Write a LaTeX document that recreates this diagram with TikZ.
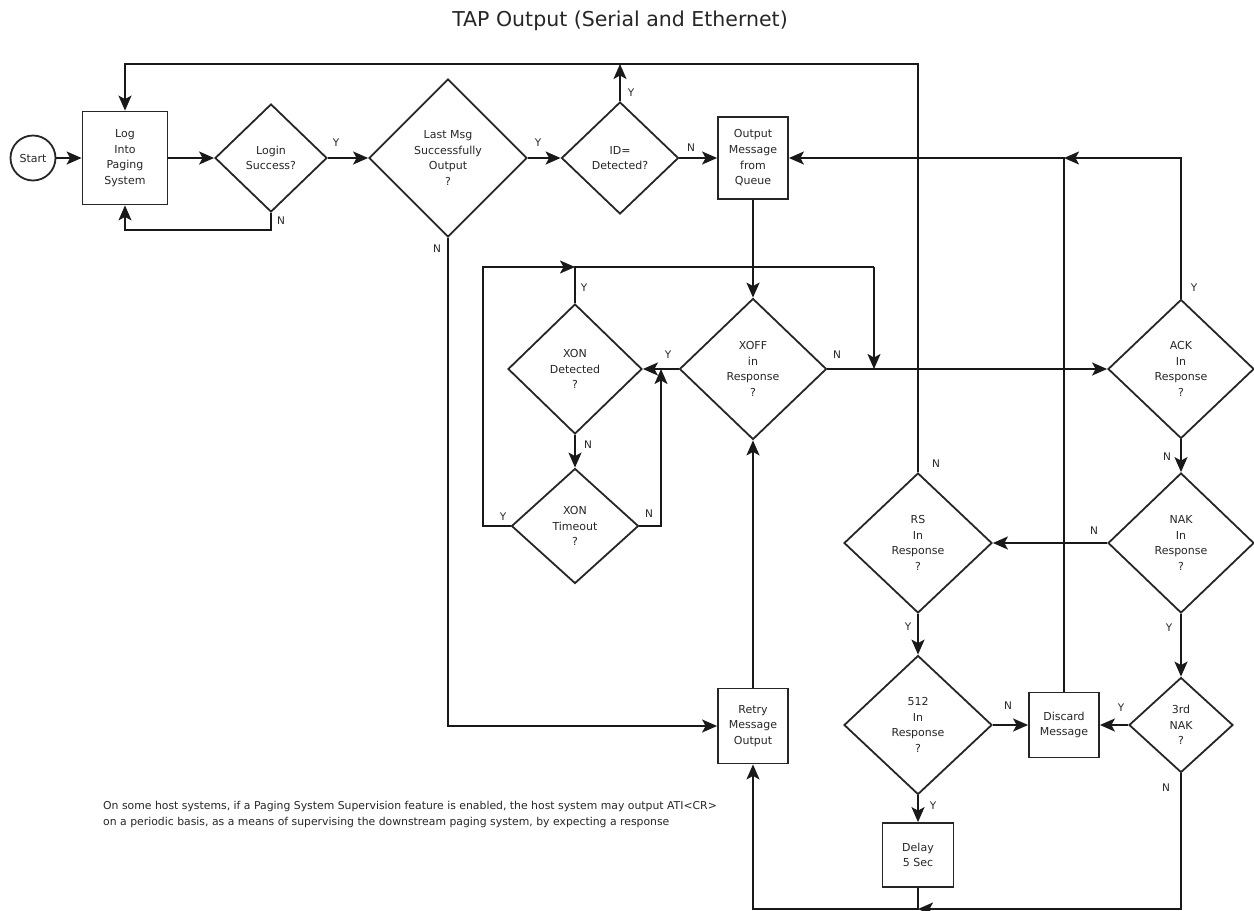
\documentclass[tikz,border=0pt]{standalone}
\usepackage{fontspec}
\setmainfont{DejaVu Sans}
\usetikzlibrary{shapes.geometric,arrows.meta}
\begin{document}
\begin{tikzpicture}[x=1pt,y=-1pt,
  every node/.style={font=\fontsize{11}{15.7}\selectfont, align=center, text=black!85},
  box/.style={draw=black!85, line width=1.8pt, rectangle, inner sep=0pt},
  dia/.style={draw=black!85, line width=1.8pt, diamond, inner sep=0pt},
  lbl/.style={font=\fontsize{10.5}{12}\selectfont, inner sep=0pt},
  conn/.style={draw=black!90, line width=1.8pt},
  arr/.style={conn, -{Stealth[length=15pt,width=13pt,inset=3.5pt]}}]
\useasboundingbox (0,0) rectangle (1254,911);
% title
\node (title) at (620,21) {\fontsize{20.5}{24}\selectfont TAP Output (Serial and Ethernet)};
% nodes
\node[draw=black!85, line width=1.8pt, circle, minimum size=45pt, inner sep=0pt] (start) at (33,158) {Start};
\node[box, minimum width=85pt, minimum height=93pt] (log) at (125,158) {Log\\Into\\Paging\\System};
\node[dia, minimum width=112pt, minimum height=108pt] (login) at (271,158) {Login\\Success?};
\node[dia, minimum width=158pt, minimum height=158pt] (last) at (448,158) {Last Msg\\Successfully\\Output\\?};
\node[dia, minimum width=117pt, minimum height=112pt] (id) at (620,158) {ID=\\Detected?};
\node[box, minimum width=70pt, minimum height=82pt] (output) at (753,158) {Output\\Message\\from\\Queue};
\node[dia, minimum width=147pt, minimum height=141pt] (xoff) at (753,369) {XOFF\\in\\Response\\?};
\node[dia, minimum width=134pt, minimum height=130pt] (xondet) at (575,369) {XON\\Detected\\?};
\node[dia, minimum width=127pt, minimum height=115pt] (xonto) at (575,526) {XON\\Timeout\\?};
\node[dia, minimum width=146pt, minimum height=139pt] (ack) at (1181,369) {ACK\\In\\Response\\?};
\node[dia, minimum width=146pt, minimum height=140pt] (nak) at (1181,543) {NAK\\In\\Response\\?};
\node[dia, minimum width=148pt, minimum height=140pt] (rs) at (918,543) {RS\\In\\Response\\?};
\node[dia, minimum width=148pt, minimum height=139pt] (d512) at (918,725) {512\\In\\Response\\?};
\node[box, minimum width=70pt, minimum height=65pt] (discard) at (1064,725) {Discard\\Message};
\node[dia, minimum width=104pt, minimum height=95pt] (nak3) at (1181,725) {3rd\\NAK\\?};
\node[box, minimum width=71pt, minimum height=64pt] (delay) at (918,855) {Delay\\5 Sec};
\node[box, minimum width=70pt, minimum height=75pt] (retry) at (753,726) {Retry\\Message\\Output};
% note
\node[anchor=west, align=left, font=\fontsize{10.85}{16}\selectfont, inner sep=0pt] (note) at (103,814) {On some host systems, if a Paging System Supervision feature is enabled, the host system may output ATI<CR>\\on a periodic basis, as a means of supervising the downstream paging system, by expecting a response};
% coordinates
\coordinate (tl) at (918,64);
\coordinate (loopL) at (483,267);
\coordinate (loopR) at (874,267);
\coordinate (toN) at (661,526);
\coordinate (ackT) at (1181,158);
\coordinate (jn) at (1064,158);
\coordinate (bot) at (1181,909);
\coordinate (botD) at (918,909);
% connectors
\draw[arr] (start.east) -- (log.west);
\draw[arr] (log.east) -- (login.west);
\draw[arr] (login.south) -- ++(0,17) -| (log.south);
\draw[arr] (login.east) -- (last.west);
\draw[arr] (last.east) -- (id.west);
\draw[arr] (id.east) -- (output.west);
\draw[arr] (id.north) -- (id.north |- tl);
\draw[arr] (rs.north) -- (tl) -| (log.north);
\draw[arr] (output.south) -- (xoff.north);
\draw[arr] (xoff.west) -- (xondet.east);
\draw[arr] (xoff.east) -- (ack.west);
\draw[arr] (xondet.south) -- (xonto.north);
\draw[conn] (xondet.north) |- (loopR);
\draw[arr] (loopR) -- (loopR |- xoff.east);
\draw[arr] (xonto.west) -| (loopL) -- (loopL -| xondet.north);
\draw[arr] (xonto.east) -- (toN) -- (toN |- xoff.west);
\draw[arr] (ack.north) -- (ackT) -- (jn);
\draw[arr] (discard.north) -- (jn) -- (output.east);
\draw[arr] (ack.south) -- (nak.north);
\draw[arr] (nak.west) -- (rs.east);
\draw[arr] (nak.south) -- (nak3.north);
\draw[arr] (rs.south) -- (d512.north);
\draw[arr] (d512.east) -- (discard.west);
\draw[arr] (nak3.west) -- (discard.east);
\draw[arr] (d512.south) -- (delay.north);
\draw[arr] (nak3.south) -- (bot) -- (botD);
\draw[arr] (delay.south) -- (botD) -| (retry.south);
\draw[arr] (last.south) |- (retry.west);
\draw[arr] (retry.north) -- (xoff.south);
% labels
\node[lbl] (y1) at (336,143) {Y};
\node[lbl] (n1) at (281,221) {N};
\node[lbl] (y2) at (538,143) {Y};
\node[lbl] (n2) at (437,249) {N};
\node[lbl] (y3) at (631,93) {Y};
\node[lbl] (n3) at (691,148) {N};
\node[lbl] (y4) at (584,288) {Y};
\node[lbl] (y5) at (668,355) {Y};
\node[lbl] (n5) at (837,355) {N};
\node[lbl] (n6) at (588,445) {N};
\node[lbl] (y7) at (503,517) {Y};
\node[lbl] (n7) at (649,514) {N};
\node[lbl] (y8) at (1194,288) {Y};
\node[lbl] (n8) at (1167,457) {N};
\node[lbl] (n9) at (936,464) {N};
\node[lbl] (n10) at (1094,531) {N};
\node[lbl] (y11) at (908,627) {Y};
\node[lbl] (y12) at (1169,628) {Y};
\node[lbl] (n13) at (1008,706) {N};
\node[lbl] (y14) at (1121,708) {Y};
\node[lbl] (y15) at (933,806) {Y};
\node[lbl] (n16) at (1166,788) {N};
\end{tikzpicture}
\end{document}
